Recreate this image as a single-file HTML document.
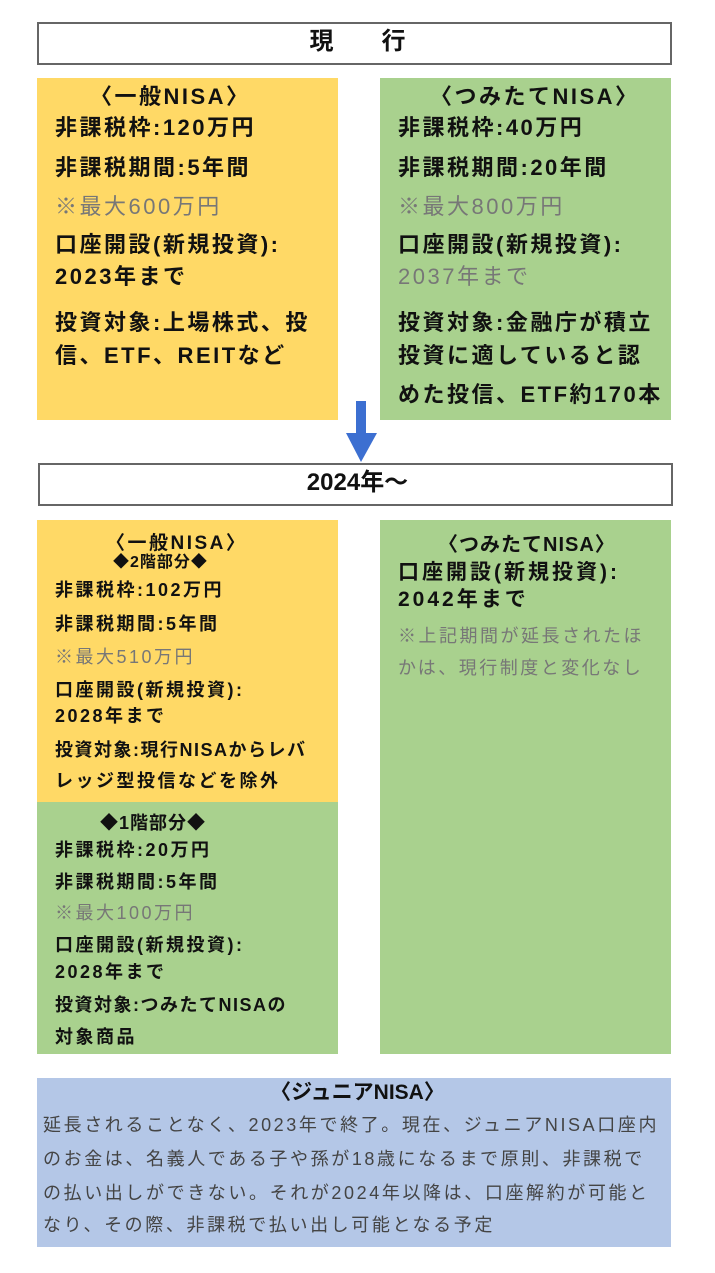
<!DOCTYPE html>
<html><head><meta charset="utf-8"><style>
body{margin:0;width:715px;height:1273px;background:#fff;position:relative;overflow:hidden;font-family:"Liberation Sans","Noto Sans CJK JP",sans-serif;}
.b{position:absolute;}
.t{position:absolute;white-space:nowrap;font-weight:bold;color:#111;}
.g{color:#777;font-weight:normal;}
.big{font-size:22px;line-height:26px;letter-spacing:2.5px;}
.mid{font-size:18px;line-height:22px;letter-spacing:2.5px;}
.sm{font-size:18px;line-height:22px;letter-spacing:2.5px;}
.j{font-size:18px;line-height:22px;letter-spacing:2.6px;color:#444;font-weight:normal;}
</style></head><body>
<div class="b" style="left:37px;top:22px;width:631px;height:39px;border:2px solid #666;background:#fff"></div>
<div class="t" style="left:0;width:715px;text-align:center;top:28px;font-size:24px;line-height:28px;">現　　行</div>

<div class="b" style="left:37px;top:78px;width:301px;height:342px;background:#FFD966"></div>
<div class="b" style="left:380px;top:78px;width:291px;height:342px;background:#A9D18E"></div>

<div class="t big" style="left:90px;top:84px;">〈一般NISA〉</div>
<div class="t big" style="left:55px;top:115px;">非課税枠:120万円</div>
<div class="t big" style="left:55px;top:155px;">非課税期間:5年間</div>
<div class="t big g" style="left:55px;top:194px;">※最大600万円</div>
<div class="t big" style="left:55px;top:232px;">口座開設(新規投資):</div>
<div class="t big" style="left:55px;top:264px;">2023年まで</div>
<div class="t big" style="left:55px;top:310px;">投資対象:上場株式、投</div>
<div class="t big" style="left:55px;top:343px;">信、ETF、REITなど</div>

<div class="t big" style="left:430px;top:84px;">〈つみたてNISA〉</div>
<div class="t big" style="left:398px;top:115px;">非課税枠:40万円</div>
<div class="t big" style="left:398px;top:155px;">非課税期間:20年間</div>
<div class="t big g" style="left:398px;top:194px;">※最大800万円</div>
<div class="t big" style="left:398px;top:232px;">口座開設(新規投資):</div>
<div class="t big g" style="left:398px;top:264px;">2037年まで</div>
<div class="t big" style="left:398px;top:310px;">投資対象:金融庁が積立</div>
<div class="t big" style="left:398px;top:343px;">投資に適していると認</div>
<div class="t big" style="left:398px;top:382px;">めた投信、ETF約170本</div>

<svg class="b" style="left:340px;top:398px" width="45" height="66"><rect x="16" y="3" width="10" height="33" fill="#3C6FD1"/><polygon points="6,35 37,35 21,64" fill="#3C6FD1"/></svg>

<div class="b" style="left:38px;top:463px;width:631px;height:39px;border:2px solid #666;background:#fff"></div>
<div class="t" style="left:0;width:715px;text-align:center;top:469px;font-size:24px;line-height:28px;">2024年〜</div>

<div class="b" style="left:37px;top:520px;width:301px;height:282px;background:#FFD966"></div>
<div class="b" style="left:37px;top:802px;width:301px;height:252px;background:#A9D18E"></div>
<div class="b" style="left:380px;top:520px;width:291px;height:534px;background:#A9D18E"></div>

<div class="t mid" style="left:106px;top:533px;font-size:19px;">〈一般NISA〉</div>
<div class="t mid" style="left:113px;top:552px;font-size:16px;letter-spacing:1px;">◆2階部分◆</div>
<div class="t mid" style="left:55px;top:579px;">非課税枠:102万円</div>
<div class="t mid" style="left:55px;top:613px;">非課税期間:5年間</div>
<div class="t mid g" style="left:55px;top:646px;">※最大510万円</div>
<div class="t mid" style="left:55px;top:679px;">口座開設(新規投資):</div>
<div class="t mid" style="left:55px;top:705px;">2028年まで</div>
<div class="t mid" style="left:55px;top:739px;letter-spacing:1.5px;">投資対象:現行NISAからレバ</div>
<div class="t mid" style="left:55px;top:770px;">レッジ型投信などを除外</div>

<div class="t mid" style="left:100px;top:812px;letter-spacing:1px;">◆1階部分◆</div>
<div class="t mid" style="left:55px;top:839px;">非課税枠:20万円</div>
<div class="t mid" style="left:55px;top:871px;">非課税期間:5年間</div>
<div class="t mid g" style="left:55px;top:902px;">※最大100万円</div>
<div class="t mid" style="left:55px;top:934px;">口座開設(新規投資):</div>
<div class="t mid" style="left:55px;top:961px;">2028年まで</div>
<div class="t mid" style="left:55px;top:994px;letter-spacing:1.5px;">投資対象:つみたてNISAの</div>
<div class="t mid" style="left:55px;top:1026px;">対象商品</div>

<div class="t big" style="left:438px;top:532px;font-size:20px;letter-spacing:1px;">〈つみたてNISA〉</div>
<div class="t big" style="left:398px;top:560px;font-size:21px;letter-spacing:3px;">口座開設(新規投資):</div>
<div class="t big" style="left:398px;top:587px;font-size:21px;letter-spacing:3px;">2042年まで</div>
<div class="t sm g" style="left:398px;top:625px;">※上記期間が延長されたほ</div>
<div class="t sm g" style="left:398px;top:657px;">かは、現行制度と変化なし</div>

<div class="b" style="left:37px;top:1078px;width:634px;height:169px;background:#B4C7E7"></div>
<div class="t" style="left:0;width:715px;text-align:center;top:1080px;font-size:21px;line-height:26px;">〈ジュニアNISA〉</div>
<div class="t j" style="left:43px;top:1114px;">延長されることなく、2023年で終了。現在、ジュニアNISA口座内</div>
<div class="t j" style="left:43px;top:1148px;">のお金は、名義人である子や孫が18歳になるまで原則、非課税で</div>
<div class="t j" style="left:43px;top:1182px;">の払い出しができない。それが2024年以降は、口座解約が可能と</div>
<div class="t j" style="left:43px;top:1214px;">なり、その際、非課税で払い出し可能となる予定</div>
</body></html>
